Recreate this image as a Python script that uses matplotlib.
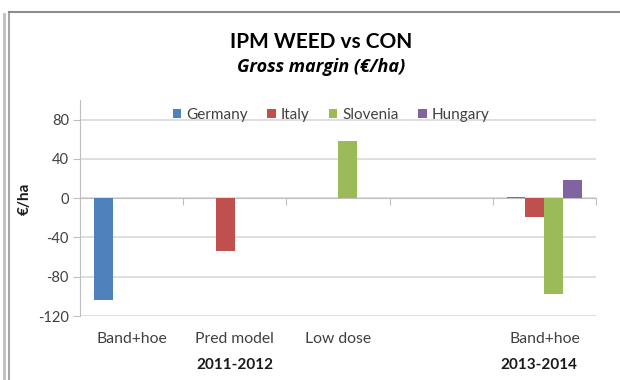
import numpy as np
import matplotlib
matplotlib.use("Agg")
import matplotlib.pyplot as plt
from matplotlib.lines import Line2D
from matplotlib.transforms import blended_transform_factory

plt.rcParams['font.family'] = ['Lato', 'DejaVu Sans']

# practices per slot (the 4th slot is an empty spacer between seasons)
practices = ["Band+hoe", "Pred model", "Low dose", "", "Band+hoe"]
seasons = ["2011-2012", "2013-2014"]
season_pos = [1.0, 3.95]
countries = ["Germany", "Italy", "Slovenia", "Hungary"]
colors = ["#4F81BD", "#C0504D", "#9BBB59", "#8064A2"]

germany = [-104, np.nan, np.nan, np.nan, 1]
italy = [np.nan, -54, np.nan, np.nan, -19]
slovenia = [np.nan, np.nan, 58, np.nan, -98]
hungary = [np.nan, np.nan, np.nan, np.nan, 19]
series = [germany, italy, slovenia, hungary]

yticks = [-120, -80, -40, 0, 40, 80]

fig = plt.figure(figsize=(6.2, 3.8), dpi=100)
ax = fig.add_axes([80 / 620, 1 - 316 / 380, 516 / 620, 216 / 380])

x = np.arange(len(practices))
w = 1 / (len(countries) + 1.45)
for i, (vals, col) in enumerate(zip(series, colors)):
    ax.bar(x + (i - 1.5) * w, vals, width=w, color=col, label=countries[i], zorder=3)

ax.set_xlim(-0.5, len(practices) - 0.5)
ax.set_ylim(-120, 100)
ax.set_yticks(yticks)
ax.set_yticklabels([str(v) for v in yticks])
ax.grid(axis='y', color='#D9D9D9', linewidth=1.2, zorder=0)
ax.tick_params(axis='y', length=5, color='#BFBFBF', labelcolor='#404040', labelsize=10.5, pad=3)

# category axis sits on the zero line, ticks between categories
ax.spines['bottom'].set_position(('data', 0))
ax.spines['bottom'].set_color('#BFBFBF')
ax.spines['left'].set_color('#BFBFBF')
ax.spines['top'].set_visible(False)
ax.spines['right'].set_visible(False)
ax.set_xticks(list(x[1:] - 0.5) + [len(practices) - 0.5], labels=[""] * 5)
ax.tick_params(axis='x', length=5, color='#BFBFBF')

tr = blended_transform_factory(ax.transData, fig.transFigure)
for xi, name in zip(x, practices):
    ax.text(xi, 1 - 339 / 380, name, transform=tr, ha='center', va='center',
            fontsize=11.3, color='#404040')
for xp, s in zip(season_pos, seasons):
    ax.text(xp, 1 - 365 / 380, s, transform=tr, ha='center', va='center',
            fontsize=11, fontweight='bold', color='#1a1a1a')

fig.text(25 / 620, 1 - 199 / 380, "€/ha", rotation=90, ha='center', va='center',
         fontsize=11, fontweight='bold', color='#1a1a1a')

fig.text(321 / 620, 1 - 42 / 380, "IPM WEED vs CON", ha='center', va='center',
         fontsize=15, fontweight='bold', color='#000000')
fig.text(321 / 620, 1 - 67 / 380, "Gross margin (€/ha)", ha='center', va='center',
         fontsize=13, fontweight='bold', fontstyle='italic', color='#000000',
         family=['Open Sans', 'DejaVu Sans'])

leg = ax.legend(loc='center', bbox_to_anchor=(331 / 620, 1 - 115 / 380),
                bbox_transform=fig.transFigure, ncol=4, frameon=False,
                fontsize=11, handlelength=0.55, handleheight=0.55, handletextpad=0.3,
                columnspacing=1.3, borderaxespad=0)
for t in leg.get_texts():
    t.set_color('#404040')

# chart frame
fig.add_artist(Line2D([4 / 620, 4 / 620], [0, 1 - 14 / 380], color='#BFBFBF', linewidth=2,
                      transform=fig.transFigure))
fig.add_artist(Line2D([9 / 620, 9 / 620], [0, 1 - 12 / 380], color='#A6A6A6', linewidth=1.5,
                      transform=fig.transFigure))
fig.add_artist(Line2D([9 / 620, 1], [1 - 12 / 380, 1 - 12 / 380], color='#8C8C8C', linewidth=1.5,
                      transform=fig.transFigure))

fig.savefig("out.png", dpi=100)
